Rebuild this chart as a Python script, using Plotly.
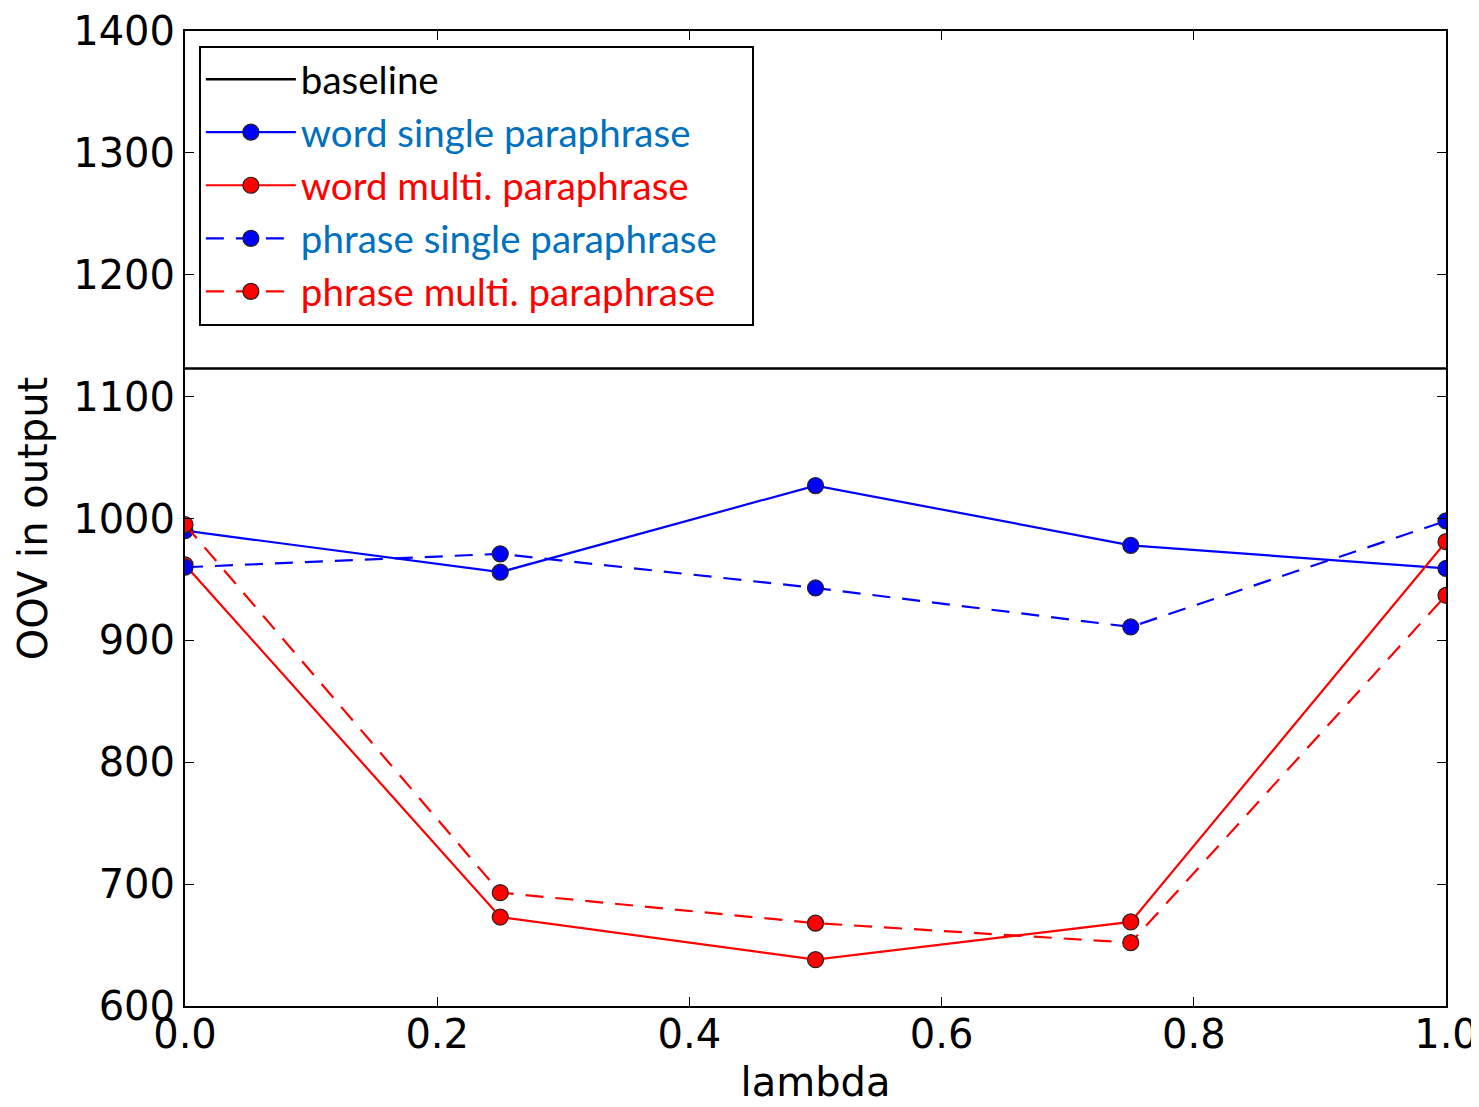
import plotly.graph_objects as go

lambdas = [0.0, 0.25, 0.5, 0.75, 1.0]
baseline_value = 1123
word_single = [990, 956, 1027, 978, 959]
word_multi = [962, 673, 638, 669, 981]
phrase_single = [960, 971, 943, 911, 998]
phrase_multi = [995, 693, 668, 652, 937]

x_ticks = [0.0, 0.2, 0.4, 0.6, 0.8, 1.0]
y_ticks = [600, 700, 800, 900, 1000, 1100, 1200, 1300, 1400]

BLUE = "#0000FF"
RED = "#FF0000"
TXT_BLUE = "#0070C0"
TXT_RED = "#FF0000"

fig = go.Figure()
fig.add_trace(go.Scatter(
    x=[0.0, 1.0], y=[baseline_value, baseline_value], mode="lines",
    line=dict(color="black", width=2.5), name="baseline"))

def add_series(vals, color, dash, name, txtcolor, pad=""):
    fig.add_trace(go.Scatter(
        x=lambdas, y=vals, mode="lines+markers",
        line=dict(color=color, width=2.2, dash=dash),
        marker=dict(size=16, color=color, line=dict(color="#222222", width=1.2)),
        name=f"<span style='color:{txtcolor}'>{name}</span>{pad}"))

add_series(word_single, BLUE, "solid", "word single paraphrase", TXT_BLUE)
add_series(word_multi, RED, "solid", "word multi. paraphrase", TXT_RED)
add_series(phrase_single, BLUE, "18px,12px", "phrase single paraphrase", TXT_BLUE, pad="&nbsp;&nbsp;&nbsp;")
add_series(phrase_multi, RED, "18px,12px", "phrase multi. paraphrase", TXT_RED)

axis_common = dict(
    showgrid=False, zeroline=False, showline=True, linecolor="black", linewidth=2,
    mirror="ticks", ticks="inside", ticklen=9, tickwidth=1, tickcolor="black",
    tickfont=dict(family="DejaVu Sans", size=40, color="black"),
    automargin=False,
)

fig.update_layout(
    width=1479, height=1107,
    paper_bgcolor="white", plot_bgcolor="white",
    margin=dict(l=177, r=41, t=23, b=109),
    xaxis=dict(range=[0, 1], tickvals=x_ticks, tickformat=".1f", ticklabelstandoff=-8,
               title=dict(text="lambda", font=dict(family="DejaVu Sans", size=40, color="black"), standoff=12),
               **axis_common),
    yaxis=dict(range=[600, 1400], tickvals=y_ticks,
               title=dict(text="OOV in output", font=dict(family="DejaVu Sans", size=40, color="black"), standoff=13),
               **axis_common),
    legend=dict(
        x=0.011, y=0.985, xanchor="left", yanchor="top",
        bgcolor="white", bordercolor="black", borderwidth=2,
        font=dict(family="Lato", size=38.5, color="black"),
        itemwidth=90, tracegroupgap=0,
    ),
    showlegend=True,
)

fig.write_html("out.html")
